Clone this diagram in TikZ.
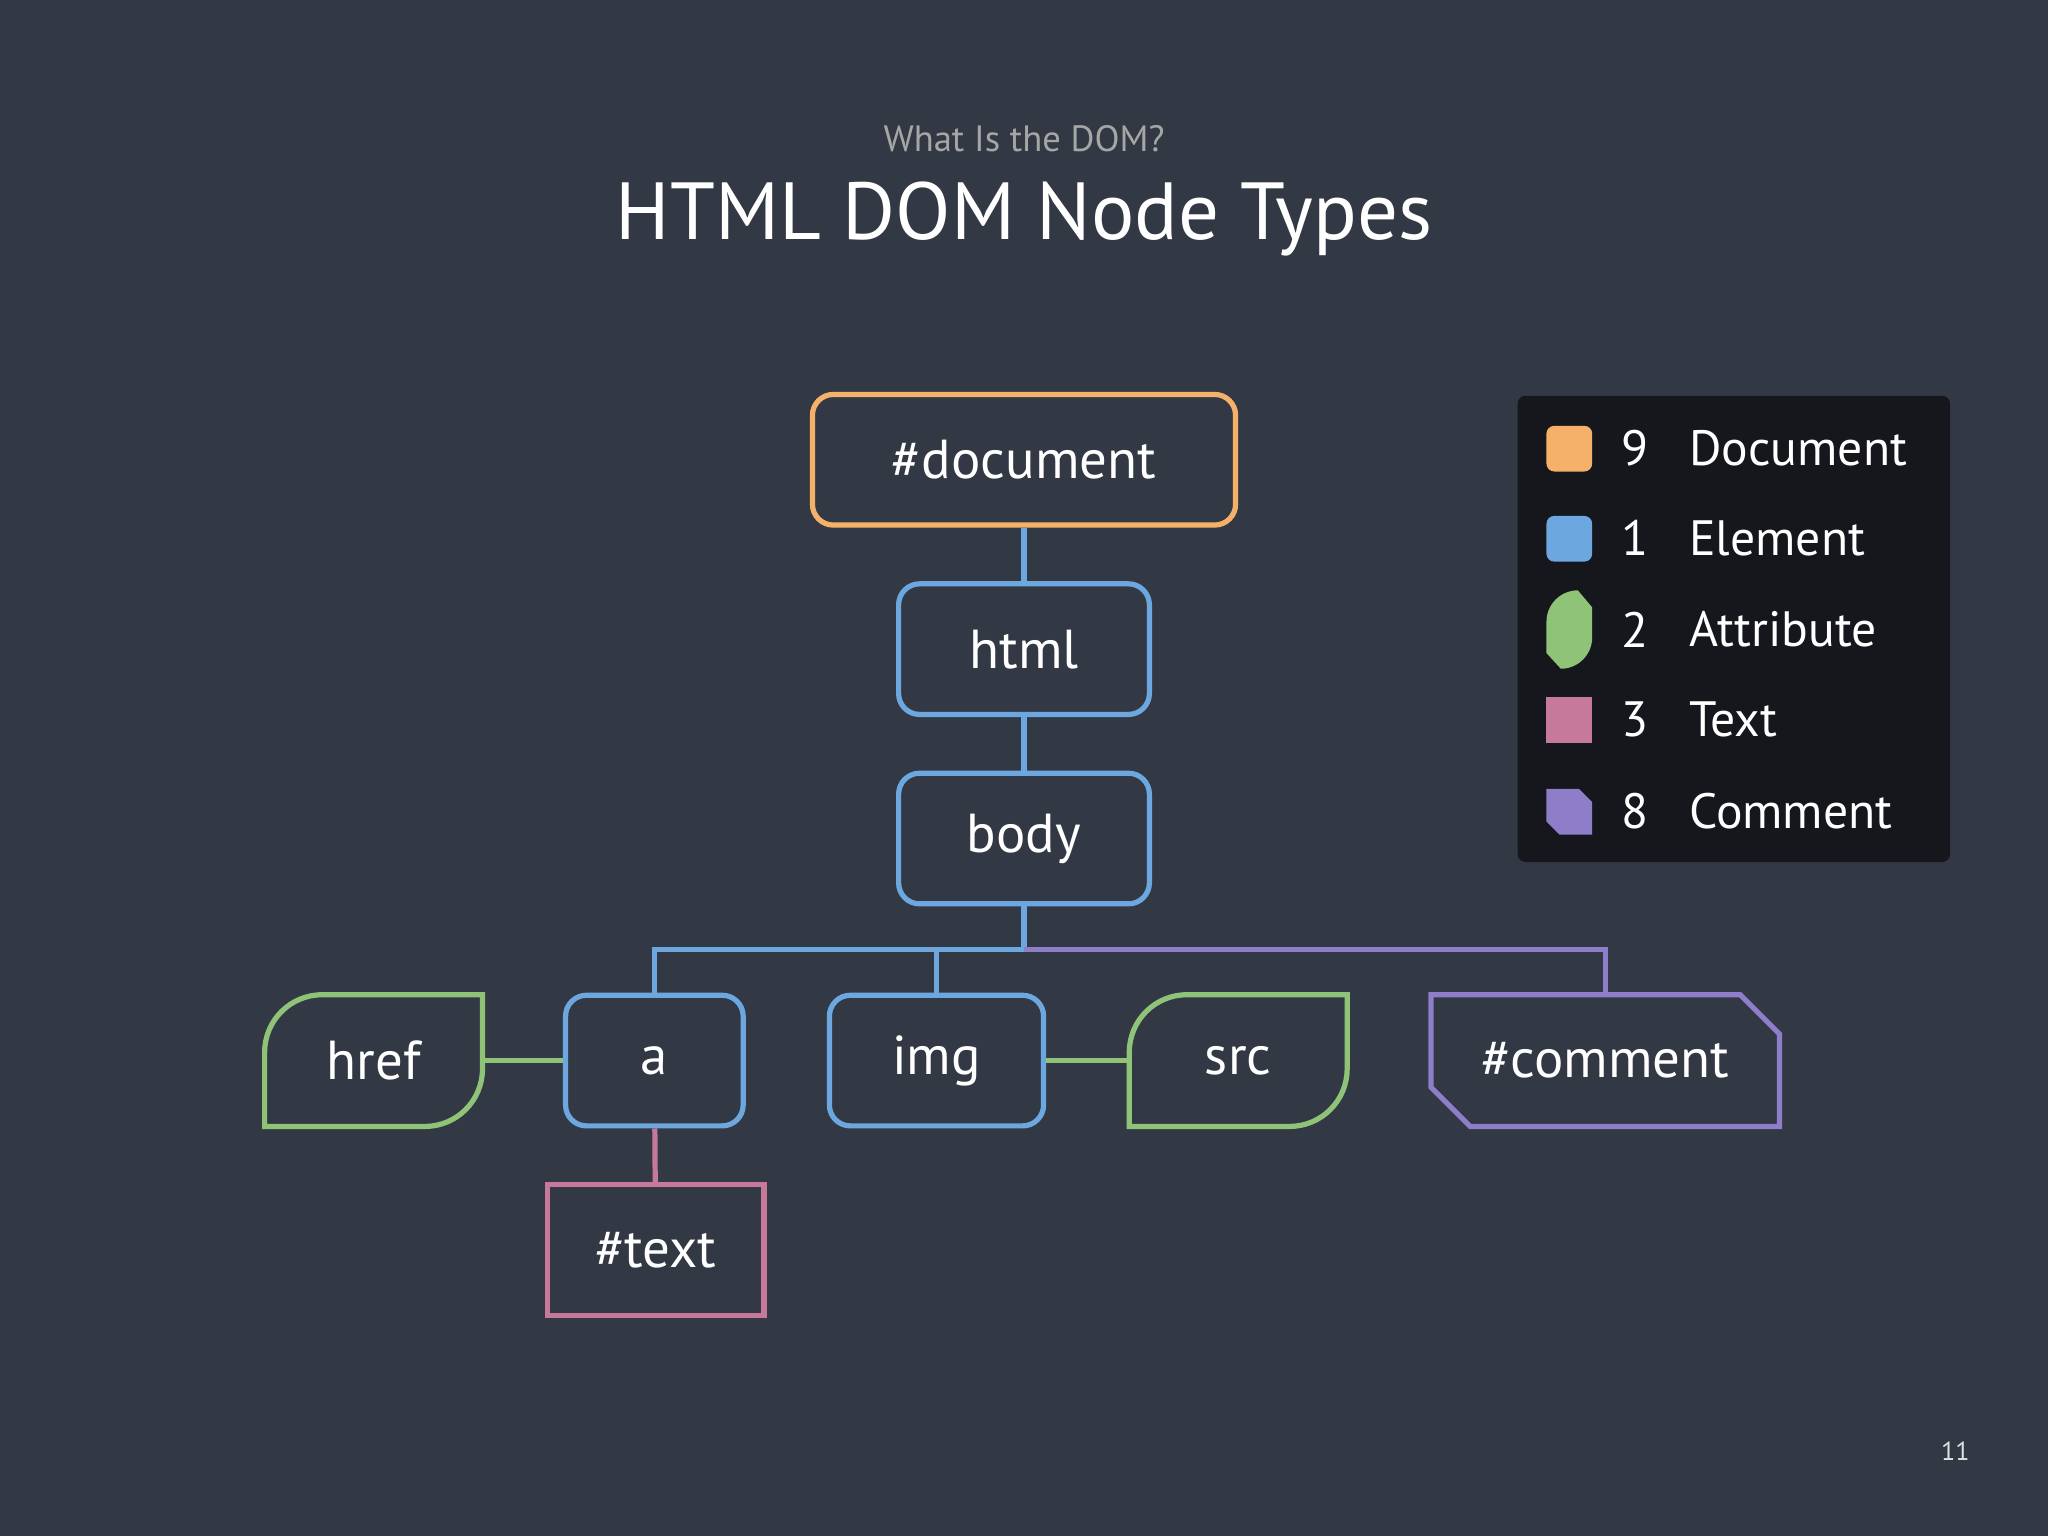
\documentclass[tikz,border=0pt]{standalone}
\usepackage{fontspec}
\setmainfont{PT Sans}
\definecolor{bg}{HTML}{323844}
\definecolor{cor}{HTML}{F5B06A}
\definecolor{cbl}{HTML}{6CA8DF}
\definecolor{cgr}{HTML}{8FC378}
\definecolor{cpk}{HTML}{C6799A}
\definecolor{cpu}{HTML}{8E7DC8}
\definecolor{lbg}{HTML}{15171C}
\begin{document}
\begin{tikzpicture}[x=0.5pt,y=-0.5pt,
  lbl/.style={text=white,font=\fontsize{21}{24}\selectfont,inner sep=0pt},
  elem/.style={lbl,draw=cbl,line width=2pt,rounded corners=8pt,minimum width=96pt,minimum height=50pt},
  shp/.style={lbl,minimum width=83pt,minimum height=50pt},
  ln/.style={line width=2pt},
  leg/.style={text=white,font=\fontsize{19}{22}\selectfont,inner sep=0pt}]
\fill[bg] (0,0) rectangle (1568,1176);
\useasboundingbox (0,0) rectangle (1568,1176);
\node[text=gray!70,font=\fontsize{14}{16}\selectfont] (sub) at (784,106) {What Is the DOM?};
\node[text=white,font=\fontsize{31}{36}\selectfont] (title) at (784,168) {HTML DOM Node Types};
\node[text=white!85!bg,font=\fontsize{10}{12}\selectfont] (pg) at (1497,1111) {11};
% connectors
\coordinate (jb) at (784,727);
\coordinate (ja) at (501,727);
\coordinate (ji) at (717,727);
\coordinate (jc) at (1229,727);
\node[elem,draw=cor,minimum width=162pt] (doc) at (784,352) {\#document};
\node[elem] (html) at (784,497) {html};
\node[elem] (body) at (784,642) {body};
\node[elem,minimum width=68pt] (a) at (501,812) {a};
\node[elem,minimum width=82pt] (img) at (717,812) {img};
\node[shp] (href) at (286,812) {href};
\node[shp] (src) at (948,812) {src};
\node[shp,minimum width=133pt] (com) at (1229,812) {\#comment};
\node[shp,draw=cpk,line width=2pt] (txt) at (502,957) {\#text};
\draw[ln,cbl] (doc) -- (html);
\draw[ln,cbl] (html) -- (body);
\draw[ln,cbl] (body) -- (jb) -- (ja) -- (a);
\draw[ln,cbl] (ji) -- (img);
\draw[ln,cpu] (jb) -- (jc) -- (com);
\draw[ln,cgr] (href) -- (a);
\draw[ln,cgr] (img) -- (src);
\draw[ln,cpk] (a) -- (txt);
\foreach \n in {href,src}{
\draw[ln,cgr] (\n.south west) -- ([yshift=-22pt]\n.north west) arc[start angle=180,end angle=90,radius=22pt] -- (\n.north east) -- ([yshift=22pt]\n.south east) arc[start angle=0,end angle=-90,radius=22pt] -- cycle;}
\draw[ln,cpu] (com.north west) -- ([xshift=-15pt]com.north east) -- ([yshift=-15pt]com.north east) -- (com.south east) -- ([xshift=15pt]com.south west) -- ([yshift=15pt]com.south west) -- cycle;
% legend
\fill[lbg,rounded corners=3pt] (1162,303) rectangle (1493,660);
\fill[cor,rounded corners=3pt] (1184,326) rectangle (1219,361);
\fill[cbl,rounded corners=3pt] (1184,395) rectangle (1219,430);
\fill[cgr] (1184,500) -- (1184,476) arc[start angle=180,end angle=90,radius=12pt] -- (1219,465) -- (1219,488) arc[start angle=0,end angle=-90,radius=12pt] -- cycle;
\fill[cpk] (1184,534) rectangle (1219,569);
\fill[cpu] (1184,604) -- (1209,604) -- (1219,614) -- (1219,639) -- (1194,639) -- (1184,629) -- cycle;
\foreach \y/\k/\t in {343/9/Document,412/1/Element,482/2/Attribute,551/3/Text,621/8/Comment}{
\node[leg] (k\k) at (1252,\y) {\k};
\node[leg,anchor=west] (t\k) at (1293,\y) {\t};}
\end{tikzpicture}
\end{document}
